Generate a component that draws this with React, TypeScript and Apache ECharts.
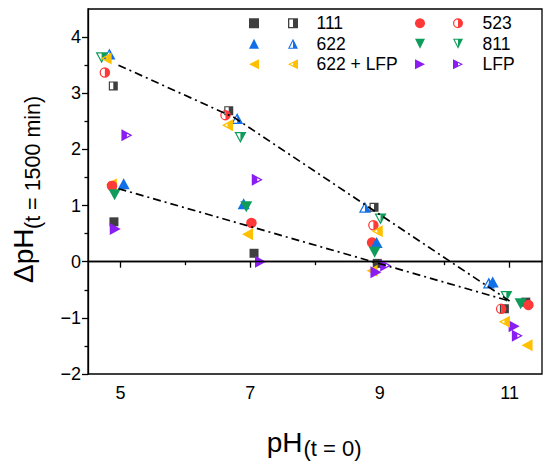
import React, { useEffect, useRef } from "react";
import * as echarts from "echarts";

const FONT = '"Liberation Sans", Arial, Helvetica, sans-serif';

// ---- data (x = pH(t=0), y = ΔpH(t=1500 min)) ----
const s111Filled = [[4.9, 0.71], [7.06, 0.15], [8.96, -0.03], [11.25, -0.72]];
const s111Half = [[4.89, 3.13], [6.67, 2.69], [8.91, 0.97], [10.92, -0.84]];
const s523Filled = [[4.87, 1.35], [7.02, 0.69], [8.88, 0.34], [11.29, -0.77]];
const s523Half = [[4.76, 3.37], [6.62, 2.61], [8.9, 0.65], [10.87, -0.84]];
const s622Filled = [[5.05, 1.39], [6.9, 1.03], [8.95, 0.34], [10.74, -0.36]];
const s622Half = [[4.83, 3.7], [6.8, 2.55], [8.77, 0.97], [10.68, -0.38]];
const s811Filled = [[4.91, 1.19], [6.94, 0.98], [8.92, 0.17], [11.17, -0.75]];
const s811Half = [[4.71, 3.63], [6.85, 2.21], [9.01, 0.76], [10.95, -0.62]];
const sMixFilled = [[4.86, 1.38], [6.96, 0.49], [8.88, -0.16], [11.27, -1.49]];
const sMixHalf = [[4.78, 3.62], [6.65, 2.43], [8.96, 0.54], [10.92, -1.07]];
const sLfpFilled = [[4.92, 0.58], [7.16, 0.0], [8.94, -0.19], [11.07, -1.15]];
const sLfpHalf = [[5.1, 2.25], [7.11, 1.46], [9.09, -0.07], [11.12, -1.32]];

const upperTrend = [[4.97, 3.5], [6.75, 2.57], [11.0, -0.7]];
const lowerTrend = [[4.97, 1.3], [11.0, -0.7]];

const xMajorTicks = [5, 7, 9, 11];
const xMinorTicks = [6, 8, 10];
const yMajorTicks = [-2, -1, 0, 1, 2, 3, 4];
const yMinorTicks = [-1.5, -0.5, 0.5, 1.5, 2.5, 3.5];

// ---- symbols ----
const SQ = "path://M0 0L10 0L10 10L0 10Z";
const SQ_H = "path://M0 0L10 0L10 10L0 10Z M1.3 1.3L1.3 8.7L8.7 8.7L8.7 1.3Z M5 0L10 0L10 10L5 10Z";
const CI_H =
  "path://M5 0A5 5 0 1 1 5 10A5 5 0 1 1 5 0Z M5 1.2A3.8 3.8 0 1 0 5 8.8A3.8 3.8 0 1 0 5 1.2Z M5 0A5 5 0 0 1 5 10Z";
const TU = "path://M5 0L10 10L0 10Z";
const TU_H = "path://M5 0L10 10L0 10Z M5 2.4L1.7 8.9L8.3 8.9Z M5 0L10 10L5 10Z";
const TD = "path://M0 0L10 0L5 10Z";
const TD_H = "path://M0 0L10 0L5 10Z M1.7 1.1L5 7.6L8.3 1.1Z M5 0L10 0L5 10Z";
const TL = "path://M0 5L10 0L10 10Z";
const TL_H = "path://M0 5L10 0L10 10Z M2.4 5L8.9 8.3L8.9 1.7Z M5 2.5L10 0L10 10L5 7.5Z";
const TR = "path://M0 0L10 5L0 10Z";
const TR_H = "path://M0 0L10 5L0 10Z M1.1 1.7L1.1 8.3L7.6 5Z M0 0L5 2.5L5 7.5L0 10Z";

const C_GREY = "#3f3f3f";
const C_RED = "#ff3838";
const C_BLUE = "#1170e8";
const C_GREEN = "#0f9c5a";
const C_YEL = "#ffc000";
const C_PUR = "#8a1df2";

function sc(name: string, data: number[][], symbol: string, size: number[] | number, color: string, z = 3) {
  return {
    name,
    type: "scatter",
    data,
    symbol,
    symbolSize: size,
    symbolKeepAspect: false,
    itemStyle: { color, opacity: 1 },
    z,
    silent: true,
  };
}

export default function App() {
  const ref = useRef<HTMLDivElement>(null);
  useEffect(() => {
    if (!ref.current) return;
    const chart = echarts.init(ref.current, null, { renderer: "svg" });
    const legendBase = {
      orient: "vertical",
      itemWidth: 11,
      itemHeight: 10,
      itemGap: 0,
      padding: 0,
      top: 13,
      selectedMode: false,
      textStyle: { fontSize: 17.5, fontFamily: FONT, color: "#000", lineHeight: 20.5 },
    };
    const option: any = {
      animation: false,
      backgroundColor: "#fff",
      grid: {
        left: 88,
        right: 8,
        top: 9,
        bottom: 96,
        show: true,
        borderColor: "#000",
        borderWidth: 1.3,
        backgroundColor: "transparent",
        outerBoundsMode: "none",
      },
      legend: [
        { ...legendBase, left: 249, data: ["111 filled", "622 filled", "622 + LFP filled"], formatter: () => " " },
        {
          ...legendBase,
          left: 288,
          data: ["111", "622", "622 + LFP"],
          textStyle: { ...legendBase.textStyle, padding: [0, 0, 0, 13] },
        },
        { ...legendBase, left: 415, data: ["523 filled", "811 filled", "LFP filled"], formatter: () => " " },
        {
          ...legendBase,
          left: 453,
          data: ["523", "811", "LFP"],
          textStyle: { ...legendBase.textStyle, padding: [0, 0, 0, 14] },
        },
      ],
      xAxis: [
        {
          type: "value",
          min: 4.5,
          max: 11.5,
          position: "bottom",
          axisLine: { show: true, lineStyle: { color: "#000", width: 1.3 } },
          axisTick: { show: true, inside: false, length: 6, customValues: xMajorTicks, lineStyle: { color: "#000", width: 1.3 } },
          axisLabel: { show: true, customValues: xMajorTicks, margin: 10, fontSize: 18, fontFamily: FONT, color: "#000" },
          splitLine: { show: false },
        },
        {
          type: "value",
          min: 4.5,
          max: 11.5,
          position: "bottom",
          axisLine: { show: false },
          axisTick: { show: true, inside: false, length: 3.5, customValues: xMinorTicks, lineStyle: { color: "#000", width: 1.3 } },
          axisLabel: { show: false },
          splitLine: { show: false },
        },
      ],
      yAxis: [
        {
          type: "value",
          min: -2,
          max: 4.5,
          position: "left",
          axisLine: { show: true, lineStyle: { color: "#000", width: 1.3 } },
          axisTick: { show: true, inside: false, length: 6, customValues: yMajorTicks, lineStyle: { color: "#000", width: 1.3 } },
          axisLabel: {
            show: true,
            customValues: yMajorTicks,
            margin: 7,
            fontSize: 18,
            fontFamily: FONT,
            color: "#000",
            formatter: (v: number) => (v < 0 ? "\u2212" + Math.abs(v) : String(v)),
          },
          splitLine: { show: false },
        },
        {
          type: "value",
          min: -2,
          max: 4.5,
          position: "left",
          axisLine: { show: false },
          axisTick: { show: true, inside: false, length: 3.5, customValues: yMinorTicks, lineStyle: { color: "#000", width: 1.3 } },
          axisLabel: { show: false },
          splitLine: { show: false },
        },
      ],
      series: [
        sc("111 filled", s111Filled, SQ, 9, C_GREY),
        sc("622 + LFP filled", sMixFilled, TL, [11, 12], C_YEL),
        sc("523 filled", s523Filled, "circle", 10.5, C_RED),
        sc("622 filled", s622Filled, TU, [12, 11], C_BLUE),
        sc("811 filled", s811Filled, TD, [12, 11], C_GREEN),
        sc("LFP filled", sLfpFilled, TR, [11, 12], C_PUR),
        sc("111", s111Half, SQ_H, 9, C_GREY),
        sc("523", s523Half, CI_H, 10.5, C_RED),
        sc("622", s622Half, TU_H, [12, 11], C_BLUE),
        sc("811", s811Half, TD_H, [12, 11], C_GREEN),
        sc("622 + LFP", sMixHalf, TL_H, [11, 12], C_YEL),
        sc("LFP", sLfpHalf, TR_H, [11, 12], C_PUR),
        {
          name: "upper trend",
          type: "line",
          data: upperTrend,
          symbol: "none",
          silent: true,
          z: 5,
          lineStyle: { color: "#000", width: 1.7, type: [8, 4, 2, 4] },
        },
        {
          name: "lower trend",
          type: "line",
          data: lowerTrend,
          symbol: "none",
          silent: true,
          z: 5,
          lineStyle: { color: "#000", width: 1.7, type: [8, 4, 2, 4] },
          markLine: {
            silent: true,
            symbol: "none",
            label: { show: false },
            lineStyle: { color: "#000", width: 1.3, type: "solid" },
            data: [{ yAxis: 0 }],
          },
        },
      ],
      graphic: [
        {
          type: "text",
          x: 266.7,
          y: 442,
          style: { text: "pH", fontSize: 28, fontFamily: FONT, fill: "#000", textAlign: "left", textVerticalAlign: "middle" },
        },
        {
          type: "text",
          x: 303.5,
          y: 448,
          style: { text: "(t = 0)", fontSize: 22, fontFamily: FONT, fill: "#000", textAlign: "left", textVerticalAlign: "middle" },
        },
        {
          type: "text",
          x: 23.2,
          y: 283,
          rotation: Math.PI / 2,
          style: { text: "\u0394pH", fontSize: 28, fontFamily: FONT, fill: "#000", textAlign: "left", textVerticalAlign: "middle" },
        },
        {
          type: "text",
          x: 33.2,
          y: 229,
          rotation: Math.PI / 2,
          style: { text: "(t = 1500 min)", fontSize: 21.5, fontFamily: FONT, fill: "#000", textAlign: "left", textVerticalAlign: "middle" },
        },
      ],
    };
    chart.setOption(option);
    return () => chart.dispose();
  }, []);
  return (
    <div
      ref={ref}
      style={{ position: "absolute", left: 0, top: 0, width: 550, height: 470, background: "#fff" }}
    />
  );
}
